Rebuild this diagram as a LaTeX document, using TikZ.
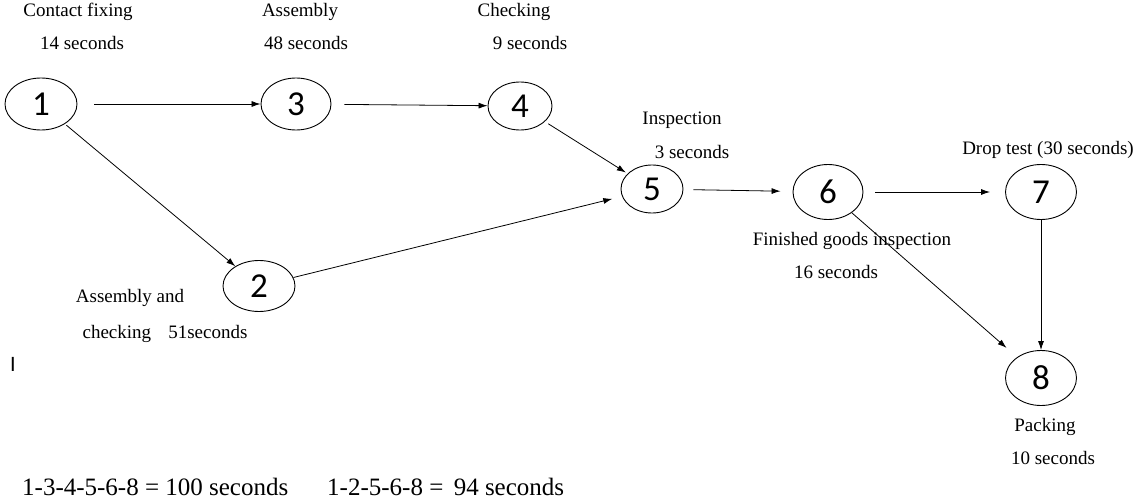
\documentclass[tikz,border=0pt]{standalone}
\usepackage{fontspec}
\setmainfont{Liberation Serif}
\newfontfamily\numfont{Carlito}
\usetikzlibrary{arrows.meta,shapes.geometric}
\begin{document}
\begin{tikzpicture}[x=1pt,y=-1pt,
  ev/.style={draw,ellipse,line width=0.9pt,minimum width=#1,minimum height=52pt,inner sep=0pt,font=\numfont\fontsize{35}{35}\selectfont},
  ev/.default=70pt,
  lbl/.style={font=\fontsize{19}{20}\selectfont,inner sep=0pt},
  sumtxt/.style={font=\fontsize{25}{26}\selectfont,inner sep=0pt,anchor=west},
  arr/.style={-{Latex[length=9pt,width=6pt]},line width=0.8pt}]
\useasboundingbox (0,0) rectangle (1138,500);
\node[ev=72pt] (n1) at (41,104) {1};
\node[ev=70pt] (n3) at (296,104) {3};
\node[ev=64pt,minimum height=48pt] (n4) at (520,106) {4};
\node[ev=62pt,minimum height=48pt] (n5) at (652,189) {5};
\node[ev=70pt,minimum height=55pt] (n6) at (828,192) {6};
\node[ev=71pt,minimum height=55pt] (n7) at (1041,192) {7};
\node[ev=72pt,minimum height=51pt] (n2) at (259,286) {2};
\node[ev=71pt,minimum height=55pt] (n8) at (1041,378) {8};

\node[lbl] (t1a) at (78,12) {Contact fixing};
\node[lbl] (t1b) at (82,43) {14 seconds};
\node[lbl] (t3a) at (300,12) {Assembly};
\node[lbl] (t3b) at (306,43) {48 seconds};
\node[lbl] (t4a) at (514,12) {Checking};
\node[lbl] (t4b) at (530,43) {9 seconds};
\node[lbl] (t5a) at (682,120) {Inspection};
\node[lbl] (t5b) at (692,152) {3 seconds};
\node[lbl] (t7) at (1048,150) {Drop test (30 seconds)};
\node[lbl] (t6a) at (852,241) {Finished goods inspection};
\node[lbl] (t6b) at (836,272) {16 seconds};
\node[lbl] (t2a) at (130,298) {Assembly and};
\node[lbl] (t2b) at (165,334) {checking\hspace{0.9em}51seconds};
\node[font=\numfont\fontsize{22}{22}\selectfont,inner sep=0pt] (cur) at (13,364) {I};
\node[lbl] (t8a) at (1045,427) {Packing};
\node[lbl] (t8b) at (1053,458) {10 seconds};
\node[sumtxt] (sum1) at (22,487) {1-3-4-5-6-8 = 100 seconds};
\node[sumtxt] (sum2) at (327,487) {1-2-5-6-8 = \,94 seconds};

\draw[arr,shorten <=17pt] (n1) -- (n3);
\draw[arr,shorten <=13pt] (n3) -- (n4);
\draw[arr,shorten <=4pt,shorten >=2pt] (n4) -- (n5);
\draw[arr,shorten <=2pt] (n1) -- (n2);
\draw[arr,shorten >=10pt] (n2) -- (n5);
\draw[arr,shorten <=10pt,shorten >=12pt] (n5) -- (n6);
\draw[arr,shorten <=12pt,shorten >=15pt] (n6) -- (n7);
\draw[arr,shorten >=14pt] (n6) -- (n8);
\draw[arr] (n7) -- (n8);
\end{tikzpicture}
\end{document}
